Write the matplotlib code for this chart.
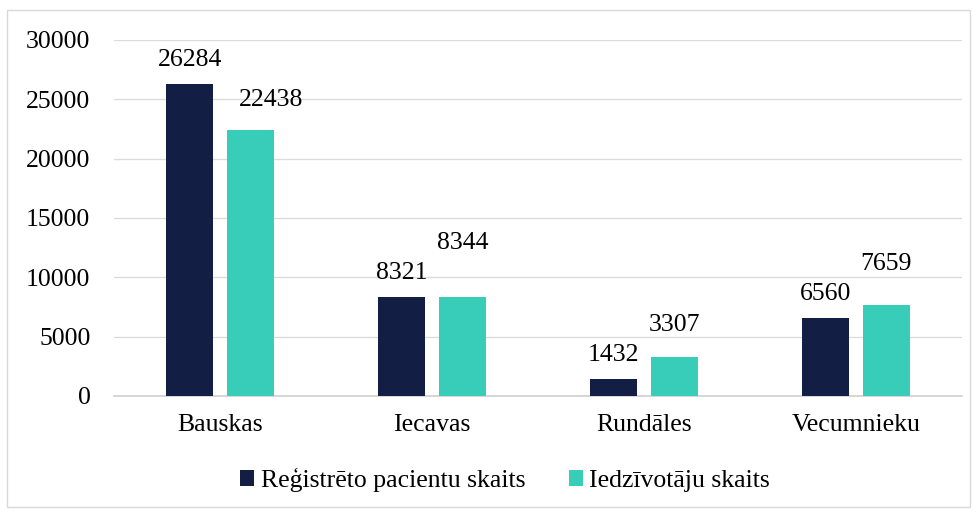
import matplotlib.pyplot as plt
import numpy as np
from matplotlib.patches import Patch, Rectangle

categories = ["Bauskas", "Iecavas", "Rundāles", "Vecumnieku"]
registered = [26284, 8321, 1432, 6560]
residents = [22438, 8344, 3307, 7659]
series_names = ["Reģistrēto pacientu skaits", "Iedzīvotāju skaits"]
yticks = [0, 5000, 10000, 15000, 20000, 25000, 30000]

navy = "#131E44"
teal = "#37CDB8"

plt.rcParams["font.family"] = ["Liberation Serif", "DejaVu Serif"]
plt.rcParams["font.size"] = 18.5

fig = plt.figure(figsize=(9.76, 5.12), dpi=100)
ax = fig.add_axes([114 / 976, (512 - 396) / 512, 848 / 976, 356 / 512])

x = np.arange(len(categories))
width = 0.222
offset = 0.143

bars1 = ax.bar(x - offset, registered, width, color=navy, zorder=3)
bars2 = ax.bar(x + offset, residents, width, color=teal, zorder=3)

ax.set_xlim(-0.5, len(categories) - 0.5)
ax.set_ylim(0, 30000)

# data labels, Excel style: a teal label that would clash with the navy one
# is lifted above it; one that sits just below it is nudged to the right
per_px = 30000 / 356
per_px_x = len(categories) / 848
gap = 30 * per_px
for b1, b2 in zip(bars1, bars2):
    y1 = b1.get_height() + 24 * per_px
    y2 = b2.get_height() + 30 * per_px
    x2 = b2.get_x() + b2.get_width() / 2
    if y2 > y1 - gap:
        y2 = max(y2, y1 + gap)
    elif y2 > y1 - 50 * per_px:
        x2 += 21 * per_px_x
    ax.text(b1.get_x() + b1.get_width() / 2, y1, f"{int(b1.get_height())}",
            ha="center", va="center", color="#000000")
    ax.text(x2, y2, f"{int(b2.get_height())}",
            ha="center", va="center", color="#000000")

ax.set_yticks(yticks)
ax.set_xticks(x)
ax.set_xticklabels(categories)
ax.tick_params(axis="y", length=0, pad=17)
ax.tick_params(axis="x", length=0, pad=13)

ax.grid(axis="y", color="#DCDCDC", linewidth=1, zorder=0)
for side in ("top", "right", "left"):
    ax.spines[side].set_visible(False)
ax.spines["bottom"].set_color("#D0D0D0")
ax.spines["bottom"].set_linewidth(1.2)

handles = [Patch(facecolor=navy), Patch(facecolor=teal)]
fig.legend(handles, series_names, loc="center", bbox_to_anchor=(505 / 976, 1 - 480 / 512),
           ncol=2, frameon=False, handlelength=0.55, handleheight=0.55,
           handletextpad=0.25, columnspacing=1.7)

# light chart-area border
fig.patches.append(Rectangle((7 / 976, 5 / 512), 963 / 976, 497 / 512,
                             transform=fig.transFigure, fill=False,
                             edgecolor="#D9D9D9", linewidth=1))

fig.savefig("out.png", dpi=100)
